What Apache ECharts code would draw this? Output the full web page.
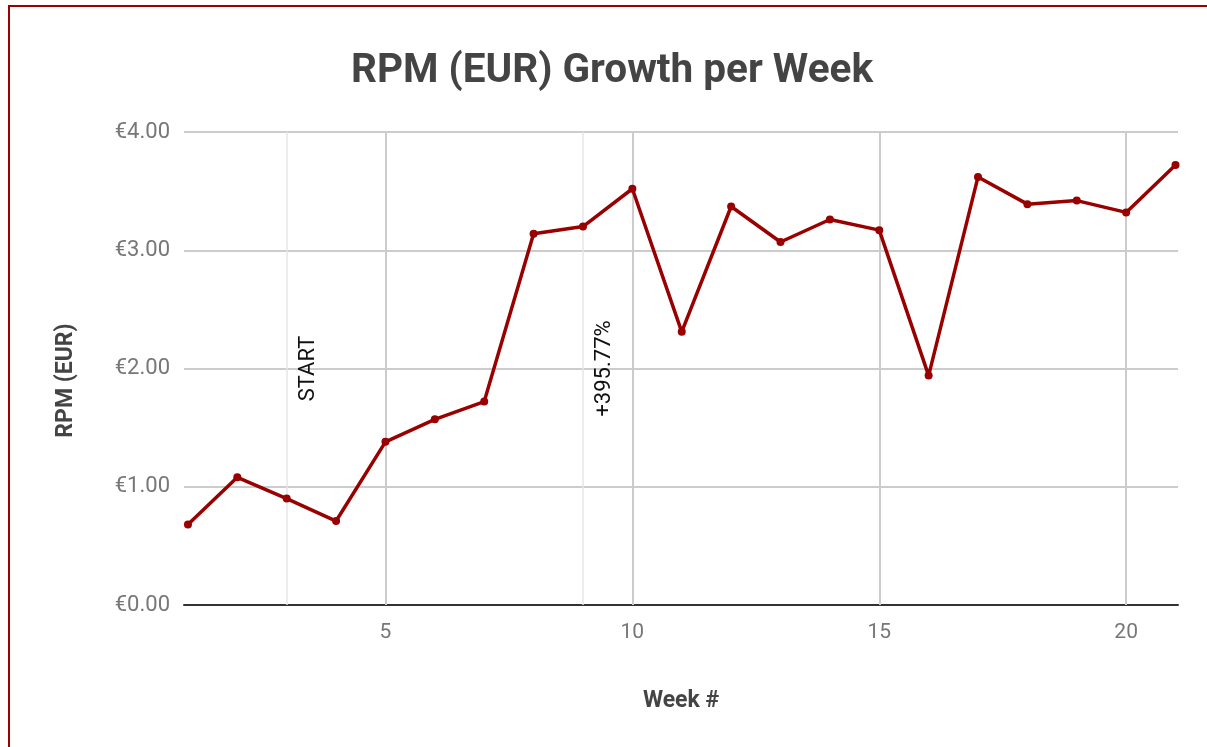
<!DOCTYPE html>
<html>
<head>
<meta charset="utf-8">
<script src="https://cdn.jsdelivr.net/npm/echarts@6/dist/echarts.min.js"></script>
<style>
  html, body { margin: 0; padding: 0; background: #fff; }
  #chart { width: 1207px; height: 747px; }
  #frame {
    position: absolute; left: 8px; top: 5px; right: -10px; bottom: -10px;
    border-left: 2px solid #9e0000; border-top: 2px solid #9e0000;
    pointer-events: none;
  }
</style>
</head>
<body>
<div id="chart"></div>
<div id="frame"></div>
<script>
// week numbers and RPM values
const weeks = [1, 2, 3, 4, 5, 6, 7, 8, 9, 10, 11, 12, 13, 14, 15, 16, 17, 18, 19, 20, 21];
const rpm = [0.68, 1.08, 0.90, 0.71, 1.38, 1.57, 1.72, 3.14, 3.20, 3.52, 2.31, 3.37, 3.07, 3.26, 3.17, 1.94, 3.62, 3.39, 3.42, 3.32, 3.72];
const xTicks = [5, 10, 15, 20];
const notes = [
  { week: 3, text: 'START' },
  { week: 9, text: '+395.77%' },
];

const chart = echarts.init(document.getElementById('chart'));

const gridLines = xTicks.map(w => ({ xAxis: w, label: { show: false } }));
const noteLines = notes.map(n => ({
  xAxis: n.week,
  label: { show: true, formatter: n.text },
}));

chart.setOption({
  animation: false,
  title: {
    text: 'RPM (EUR) Growth per Week',
    left: 346,
    top: 46,
    textStyle: { fontFamily: 'Roboto', fontSize: 40.5, fontWeight: 'bold', color: '#444' },
  },
  grid: { left: 184, right: 29, top: 132, bottom: 142 },
  xAxis: {
    type: 'value',
    min: 0.92,
    max: 21.05,
    name: 'Week #',
    nameLocation: 'middle',
    nameGap: 85,
    nameTextStyle: { fontFamily: 'Roboto', fontSize: 23, fontWeight: 'bold', color: '#444' },
    axisLine: { show: true, onZero: false, lineStyle: { color: '#333', width: 2 } },
    axisTick: { show: false },
    splitLine: { show: false },
    axisLabel: {
      customValues: xTicks,
      margin: 17,
      fontFamily: 'Roboto', fontSize: 21, color: '#777',
    },
  },
  yAxis: {
    type: 'value',
    min: 0,
    max: 4,
    interval: 1,
    name: 'RPM (EUR)',
    nameLocation: 'middle',
    nameGap: 106,
    nameTextStyle: {
      fontFamily: 'Roboto', fontSize: 23, fontWeight: 'bold', color: '#444',
      padding: [0, 24, 0, 0],
    },
    axisLine: { show: false },
    axisTick: { show: false },
    splitLine: { lineStyle: { color: '#ccc', width: 2 } },
    axisLabel: {
      margin: 14,
      fontFamily: 'Roboto', fontSize: 22, color: '#777',
      formatter: v => '€' + v.toFixed(2),
    },
  },
  series: [
    {
      type: 'line',
      data: [],
      silent: true,
      z: 1,
      markLine: {
        silent: true,
        symbol: 'none',
        lineStyle: { color: '#ccc', width: 2, type: 'solid' },
        data: gridLines,
      },
    },
    {
      type: 'line',
      data: [],
      silent: true,
      z: 1,
      markLine: {
        silent: true,
        symbol: 'none',
        lineStyle: { color: '#e6e6e6', width: 1.5, type: 'solid' },
        label: {
          position: 'insideMiddleBottom',
          distance: 11,
          fontFamily: 'Roboto', fontSize: 22, color: '#111',
        },
        data: noteLines,
      },
    },
    {
      type: 'line',
      data: weeks.map((w, i) => [w, rpm[i]]),
      z: 5,
      symbol: 'circle',
      symbolSize: 8,
      itemStyle: { color: '#990000' },
      lineStyle: { color: '#990000', width: 3.5 },
    },
  ],
});
</script>
</body>
</html>
